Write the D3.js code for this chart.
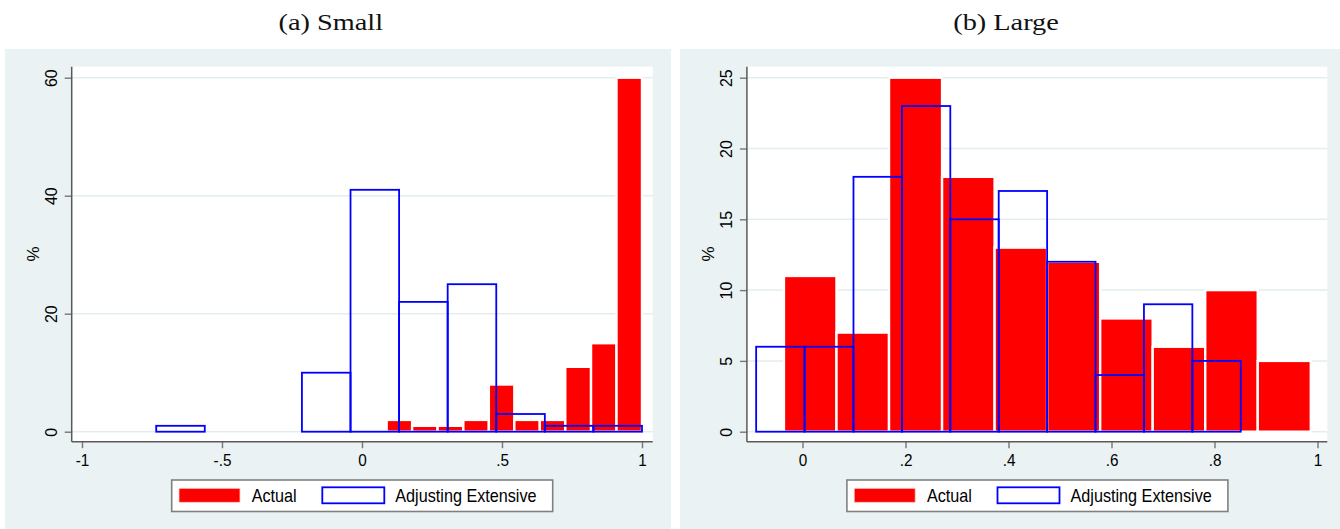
<!DOCTYPE html>
<html>
<head>
<meta charset="utf-8">
<script src="https://cdn.jsdelivr.net/npm/d3@7"></script>
<style>
  html, body { margin: 0; padding: 0; background: #ffffff; }
  svg { display: block; }
</style>
</head>
<body>
<svg id="chart" width="1340" height="529"></svg>
<script>
// ---------------- DATA ----------------
const panelTitles = ["(a) Small", "(b) Large"];
const seriesNames = ["Actual", "Adjusting Extensive"];

// Panel (a) Small
const smallActualEdges = [0.088, 0.179, 0.270, 0.362, 0.453, 0.544, 0.635, 0.726, 0.818, 0.909, 1.000];
const smallActualValues = [2, 1, 1, 2, 8, 2, 2, 11, 15, 60];
const smallAdjEdges = [-0.735, -0.5615, -0.388, -0.2145, -0.041, 0.1325, 0.306, 0.4795, 0.653, 0.8265, 1.000];
const smallAdjValues = [1, 0, 0, 10, 41, 22, 25, 3, 1, 1];
const smallXTicks = [-1, -0.5, 0, 0.5, 1];
const smallXTickLabels = ["-1", "-.5", "0", ".5", "1"];
const smallYTicks = [0, 20, 40, 60];

// Panel (b) Large
const largeActualEdges = [-0.036, 0.066, 0.168, 0.271, 0.373, 0.475, 0.578, 0.680, 0.782, 0.884, 0.987];
const largeActualValues = [11, 7, 25, 18, 13, 12, 8, 6, 10, 5];
const largeAdjEdges = [-0.090, 0.004, 0.099, 0.193, 0.287, 0.381, 0.475, 0.569, 0.663, 0.757, 0.851];
const largeAdjValues = [6, 6, 18, 23, 15, 17, 12, 4, 9, 5];
const largeXTicks = [0, 0.2, 0.4, 0.6, 0.8, 1];
const largeXTickLabels = ["0", ".2", ".4", ".6", ".8", "1"];
const largeYTicks = [0, 5, 10, 15, 20, 25];

const yAxisTitle = "%";

// ---------------- LAYOUT / STYLE ----------------
const BG = "#EAF2F3";
const GRID = "#E3EDEF";
const RED = "#FF0000";
const BLUE = "#0000FF";
const AXIS = "#5a5a5a";
const SANS = "'Liberation Sans', Arial, sans-serif";
const SERIF = "'Liberation Serif', 'Times New Roman', serif";

const svg = d3.select("#chart");

function bins(edges, values) {
  return values.map((v, i) => ({ x0: edges[i], x1: edges[i + 1], v }));
}

const panels = [
  {
    title: panelTitles[0], titleX: 330.8,
    bg: { x: 5, w: 666 },
    px0: 71.7, px1: 652.7,
    xDomain: [-1, 1], xRange: [82, 642],
    yMax: 60,
    actual: bins(smallActualEdges, smallActualValues),
    adj: bins(smallAdjEdges, smallAdjValues),
    xTicks: smallXTicks, xLabels: smallXTickLabels, yTicks: smallYTicks
  },
  {
    title: panelTitles[1], titleX: 1006,
    bg: { x: 680, w: 660 },
    px0: 746.9, px1: 1327.3,
    xDomain: [0, 1], xRange: [802.5, 1317.5],
    yMax: 25,
    actual: bins(largeActualEdges, largeActualValues),
    adj: bins(largeAdjEdges, largeAdjValues),
    xTicks: largeXTicks, xLabels: largeXTickLabels, yTicks: largeYTicks
  }
];

const plotTop = 66.7, axisY = 441.7, zeroY = 431.7, topTickY = 77.7;

panels.forEach(p => {
  const g = svg.append("g");

  // panel title
  svg.append("text")
    .attr("transform", `translate(${p.titleX},29.5) scale(1.18,1)`)
    .attr("text-anchor", "middle")
    .attr("font-family", SERIF)
    .attr("font-size", 24)
    .attr("fill", "#111")
    .text(p.title);

  // graph region background
  g.append("rect")
    .attr("x", p.bg.x).attr("y", 49)
    .attr("width", p.bg.w).attr("height", 529 - 49)
    .attr("fill", BG);

  // plot region
  g.append("rect")
    .attr("x", p.px0).attr("y", plotTop)
    .attr("width", p.px1 - p.px0).attr("height", axisY - plotTop)
    .attr("fill", "#ffffff");

  const x = d3.scaleLinear().domain(p.xDomain).range(p.xRange);
  const y = d3.scaleLinear().domain([0, p.yMax]).range([zeroY, topTickY]);

  // gridlines
  g.append("g").selectAll("line").data(p.yTicks).join("line")
    .attr("x1", p.px0).attr("x2", p.px1)
    .attr("y1", d => y(d)).attr("y2", d => y(d))
    .attr("stroke", GRID).attr("stroke-width", 1.5);

  // Actual bars (filled red, white outline)
  g.append("g").selectAll("rect").data(p.actual.filter(d => d.v > 0)).join("rect")
    .attr("x", d => x(d.x0)).attr("width", d => x(d.x1) - x(d.x0))
    .attr("y", d => y(d.v)).attr("height", d => y(0) - y(d.v))
    .attr("fill", RED)
    .attr("stroke", "#ffffff").attr("stroke-width", 2.4);

  // Adjusting Extensive bars (blue outline)
  g.append("g").selectAll("rect").data(p.adj.filter(d => d.v > 0)).join("rect")
    .attr("x", d => x(d.x0)).attr("width", d => x(d.x1) - x(d.x0))
    .attr("y", d => y(d.v)).attr("height", d => y(0) - y(d.v))
    .attr("fill", "none")
    .attr("stroke", BLUE).attr("stroke-width", 1.8);

  // x axis
  const xa = g.append("g").attr("transform", `translate(0,${axisY})`)
    .call(d3.axisBottom(x).tickValues(p.xTicks)
      .tickFormat((d, i) => p.xLabels[i]).tickSize(6.5).tickSizeOuter(0));
  xa.select(".domain").remove();
  xa.selectAll(".tick line").attr("stroke", "#777").attr("stroke-width", 1.4);
  xa.selectAll(".tick text")
    .attr("y", 24.8).attr("dy", 0)
    .attr("transform", "scale(0.9,1)")
    .attr("font-family", SANS).attr("font-size", 17).attr("fill", "#000");
  g.append("line")
    .attr("x1", p.px0).attr("x2", p.px1)
    .attr("y1", axisY).attr("y2", axisY)
    .attr("stroke", AXIS).attr("stroke-width", 1.5);

  // y axis
  const ya = g.append("g").attr("transform", `translate(${p.px0},0)`)
    .call(d3.axisLeft(y).tickValues(p.yTicks).tickFormat(d3.format("d"))
      .tickSize(7).tickSizeOuter(0));
  ya.select(".domain").remove();
  ya.selectAll(".tick line").attr("stroke", "#777").attr("stroke-width", 1.4);
  ya.selectAll(".tick text")
    .attr("x", 0).attr("dy", 0)
    .attr("transform", "translate(-15,0) rotate(-90)")
    .attr("text-anchor", "middle")
    .attr("font-family", SANS).attr("font-size", 16).attr("fill", "#000");
  g.append("line")
    .attr("x1", p.px0).attr("x2", p.px0)
    .attr("y1", plotTop).attr("y2", axisY)
    .attr("stroke", AXIS).attr("stroke-width", 1.5);

  // y axis title
  g.append("text")
    .attr("transform", `translate(${p.px0 - 32.5},254) rotate(-90)`)
    .attr("text-anchor", "middle")
    .attr("font-family", SANS).attr("font-size", 17).attr("fill", "#000")
    .text(yAxisTitle);

  // legend
  const lx = p.px0 + 100;
  const lg = g.append("g").attr("transform", `translate(${lx},480)`);
  lg.append("rect")
    .attr("x", 0).attr("y", 0).attr("width", 381).attr("height", 31.5)
    .attr("fill", "#ffffff").attr("stroke", "#808080").attr("stroke-width", 1.6);
  lg.append("rect")
    .attr("x", 7.3).attr("y", 8.3).attr("width", 61).attr("height", 14)
    .attr("fill", RED).attr("stroke", "#ffd0d0").attr("stroke-width", 0.8);
  lg.append("text")
    .attr("transform", "translate(80,22.3) scale(0.9,1)")
    .attr("font-family", SANS).attr("font-size", 18).attr("fill", "#000")
    .text(seriesNames[0]);
  lg.append("rect")
    .attr("x", 150.6).attr("y", 7.3).attr("width", 62).attr("height", 16)
    .attr("fill", "#ffffff").attr("stroke", BLUE).attr("stroke-width", 1.8);
  lg.append("text")
    .attr("transform", "translate(223.6,22.3) scale(0.9,1)")
    .attr("font-family", SANS).attr("font-size", 18).attr("fill", "#000")
    .text(seriesNames[1]);
});
</script>
</body>
</html>
